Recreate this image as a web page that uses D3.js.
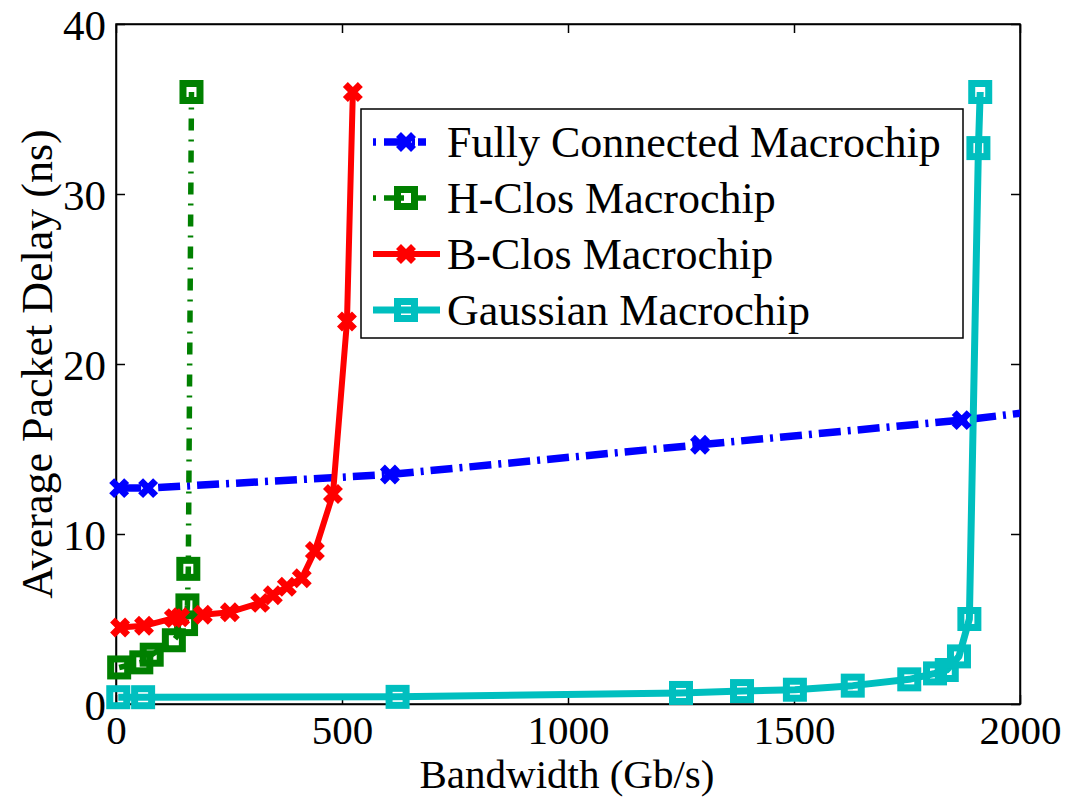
<!DOCTYPE html>
<html>
<head>
<meta charset="utf-8">
<script src="https://cdn.jsdelivr.net/npm/d3@7"></script>
<style>
  body { margin: 0; background: #fff; }
  text { font-family: "Liberation Serif", "Times New Roman", serif; fill: #000; }
  .axis path, .axis line { stroke: #000; stroke-width: 1.5; }
</style>
</head>
<body>
<div id="chart"></div>
<script>
var width = 1068, height = 798;
var margin = { top: 24, right: 48, bottom: 94, left: 116 };

// data
var fullyX = [7, 71, 606, 1292, 1871, 2500];
var fullyY = [12.7, 12.7, 13.5, 15.25, 16.7, 18.65];

var hclosX = [7, 56, 79, 128, 155, 158, 160, 167];
var hclosY = [2.15, 2.45, 2.9, 3.75, 4.7, 5.8, 7.95, 36];

var bclosX = [9, 62, 128, 142, 192, 252, 319, 347, 378, 411, 440, 480, 511, 524];
var bclosY = [4.5, 4.6, 5.05, 5.1, 5.25, 5.4, 5.95, 6.4, 6.9, 7.4, 9.0, 12.35, 22.5, 36];

var gaussX = [5, 60, 623, 1250, 1385, 1502, 1630, 1755, 1812, 1838, 1865, 1888, 1908, 1912];
var gaussY = [0.4, 0.4, 0.42, 0.65, 0.76, 0.84, 1.08, 1.45, 1.8, 2.0, 2.8, 5.0, 32.7, 36];

var xTicks = [0, 500, 1000, 1500, 2000];
var yTicks = [0, 10, 20, 30, 40];

var series = [
  { name: 'Fully Connected Macrochip', xs: fullyX, ys: fullyY, color: '#0000ff', marker: 'x', width: 7.5, dash: '22,7,3,7' },
  { name: 'H-Clos Macrochip', xs: hclosX, ys: hclosY, color: '#008000', marker: 'square', width: 5.5, dash: '12,9,2,9' },
  { name: 'B-Clos Macrochip', xs: bclosX, ys: bclosY, color: '#ff0000', marker: 'x', width: 6, dash: null },
  { name: 'Gaussian Macrochip', xs: gaussX, ys: gaussY, color: '#00bfbf', marker: 'square', width: 7, dash: null }
];

var w = width - margin.left - margin.right;
var h = height - margin.top - margin.bottom;

var x = d3.scaleLinear().domain([0, 2000]).range([0, w]);
var y = d3.scaleLinear().domain([0, 40]).range([h, 0]);

var svg = d3.select('#chart').append('svg')
  .attr('width', width)
  .attr('height', height)
  .append('g')
  .attr('transform', 'translate(' + margin.left + ',' + margin.top + ')');

svg.append('clipPath').attr('id', 'clip')
  .append('rect').attr('width', w).attr('height', h);

// axes with inward ticks on all four sides
var tick = 9;
svg.append('g').attr('class', 'axis')
  .attr('transform', 'translate(0,' + h + ')')
  .call(d3.axisBottom(x).tickValues(xTicks).tickSize(-tick).tickFormat(d3.format('d')).tickSizeOuter(0))
  .call(function(g) { g.selectAll('text').attr('font-size', 41).attr('y', 40).attr('dy', null); });
svg.append('g').attr('class', 'axis')
  .call(d3.axisTop(x).tickValues(xTicks).tickSize(-tick).tickFormat('').tickSizeOuter(0));
svg.append('g').attr('class', 'axis')
  .call(d3.axisLeft(y).tickValues(yTicks).tickSize(-tick).tickPadding(10).tickSizeOuter(0))
  .call(function(g) { g.selectAll('text').attr('font-size', 43).attr('dy', '0.36em'); });
svg.append('g').attr('class', 'axis')
  .attr('transform', 'translate(' + w + ',0)')
  .call(d3.axisRight(y).tickValues(yTicks).tickSize(-tick).tickFormat('').tickSizeOuter(0));

svg.append('rect')
  .attr('width', w).attr('height', h)
  .attr('fill', 'none').attr('stroke', '#000').attr('stroke-width', 1.5);

// axis labels
svg.append('text')
  .attr('x', 567 - margin.left).attr('y', 788 - margin.top)
  .attr('text-anchor', 'middle').attr('font-size', 41)
  .text('Bandwidth (Gb/s)');
svg.append('text')
  .attr('transform', 'translate(' + (52 - margin.left) + ',' + (364 - margin.top) + ') rotate(-90)')
  .attr('text-anchor', 'middle').attr('font-size', 44)
  .text('Average Packet Delay (ns)');

function drawMarker(g, type, color, cx, cy) {
  if (type === 'x') {
    var s = 7.5;
    g.append('path')
      .attr('d', 'M' + (cx - s) + ',' + (cy - s) + 'L' + (cx + s) + ',' + (cy + s) +
                 'M' + (cx - s) + ',' + (cy + s) + 'L' + (cx + s) + ',' + (cy - s))
      .attr('stroke', color).attr('stroke-width', 7).attr('fill', 'none');
  } else {
    var r = 8.5;
    g.append('rect')
      .attr('x', cx - r).attr('y', cy - r).attr('width', 2 * r).attr('height', 2 * r)
      .attr('stroke', color).attr('stroke-width', 7).attr('fill', 'none');
  }
}

var line = d3.line()
  .x(function(d) { return x(d[0]); })
  .y(function(d) { return y(d[1]); });

var plot = svg.append('g').attr('clip-path', 'url(#clip)');
var markers = svg.append('g');

series.forEach(function(s) {
  var pts = s.xs.map(function(v, i) { return [v, s.ys[i]]; });
  plot.append('path')
    .datum(pts)
    .attr('d', line)
    .attr('fill', 'none')
    .attr('stroke', s.color)
    .attr('stroke-width', s.width)
    .attr('stroke-dasharray', s.dash)
    .attr('stroke-linejoin', 'round');
  pts.forEach(function(p) {
    if (p[0] <= 2000) drawMarker(markers, s.marker, s.color, x(p[0]), y(p[1]));
  });
});

// legend
var legend = svg.append('g')
  .attr('transform', 'translate(' + (361 - margin.left) + ',' + (109 - margin.top) + ')');
legend.append('rect')
  .attr('width', 602).attr('height', 229)
  .attr('fill', '#fff').attr('stroke', '#000').attr('stroke-width', 1.5);

series.forEach(function(s, i) {
  var ly = 33 + i * 56;
  legend.append('line')
    .attr('x1', 12).attr('x2', 79).attr('y1', ly).attr('y2', ly)
    .attr('stroke', s.color).attr('stroke-width', s.width)
    .attr('stroke-dasharray', s.dash ? '3,8,20,8,3' : null);
  drawMarker(legend, s.marker, s.color, 45, ly);
  legend.append('text')
    .attr('x', 86).attr('y', ly).attr('dy', '0.35em')
    .attr('font-size', 44)
    .text(s.name);
});
</script>
</body>
</html>
